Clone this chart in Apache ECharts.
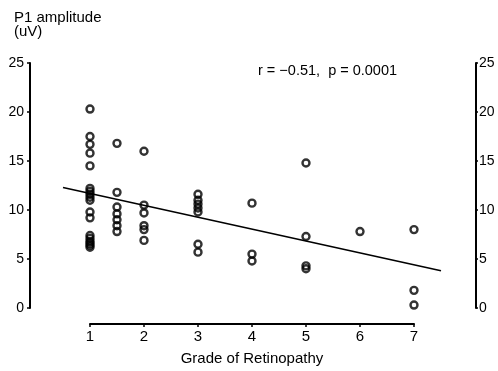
<!DOCTYPE html>
<html>
<head>
<meta charset="utf-8">
<script src="https://cdn.jsdelivr.net/npm/echarts@6/dist/echarts.min.js"></script>
<style>
  html, body { margin: 0; padding: 0; background: #fff; }
  #chart { width: 498px; height: 371px; }
</style>
</head>
<body>
<div id="chart"></div>
<script>
// Grade of retinopathy for each patient
const grades = [
  1, 1, 1, 1, 1, 1, 1, 1, 1, 1, 1, 1, 1, 1, 1, 1, 1, 1,
  1.5, 1.5, 1.5, 1.5, 1.5, 1.5, 1.5,
  2, 2, 2, 2, 2, 2,
  3, 3, 3, 3, 3, 3, 3,
  4, 4, 4,
  5, 5, 5, 5,
  6,
  7, 7, 7
];
// P1 amplitude (uV) for each patient
const amplitudes = [
  20.3, 17.5, 16.7, 15.8, 14.5, 12.2, 11.9, 11.6, 11.3, 11.0, 9.8, 9.2, 7.4, 7.1, 6.8, 6.6, 6.4, 6.2,
  16.8, 11.8, 10.3, 9.6, 9.0, 8.4, 7.8,
  16.0, 10.5, 9.7, 8.4, 8.0, 6.9,
  11.6, 11.0, 10.6, 10.2, 9.8, 6.5, 5.7,
  10.7, 5.5, 4.8,
  14.8, 7.3, 4.3, 4.0,
  7.8,
  8.0, 1.8, 0.3
];
// Least-squares fit line end points
const fitX = [0.5, 7.5];
const fitY = [12.3, 3.8];

const gradeTicks = [1, 2, 3, 4, 5, 6, 7];
const amplitudeTicks = [0, 5, 10, 15, 20, 25];

const statsText = 'r = \u22120.51,  p = 0.0001';
const yTitle = ['P1 amplitude', '(uV)'];
const xTitle = 'Grade of Retinopathy';

const FONT = '"Liberation Sans", Arial, Helvetica, sans-serif';

const points = grades.map((g, i) => [g, amplitudes[i]]);
const fitLine = fitX.map((x, i) => [x, fitY[i]]);

// Plot frame: the two amplitude axes sit at the frame edges, while the
// grade axis is drawn in its own narrower, lower band.
const frame = { left: 30, right: 22, top: 63, bottom: 63 };
const gradeBand = { left: 90, right: 84 };
const plotWidth = 498 - frame.left - frame.right;
const gradeWidth = 498 - gradeBand.left - gradeBand.right;
const pxPerGrade = gradeWidth / (gradeTicks[gradeTicks.length - 1] - gradeTicks[0]);
const frameMinX = gradeTicks[0] - (gradeBand.left - frame.left) / pxPerGrade;
const frameMaxX = frameMinX + plotWidth / pxPerGrade;

const yAxisBase = {
  type: 'value',
  gridIndex: 0,
  min: amplitudeTicks[0],
  max: amplitudeTicks[amplitudeTicks.length - 1],
  interval: 5,
  splitLine: { show: false },
  axisLine: { show: true, onZero: false, lineStyle: { color: '#000', width: 2 } },
  axisTick: { show: true, length: 3, lineStyle: { color: '#000', width: 1.5 } },
  axisLabel: { color: '#000', fontFamily: FONT, fontSize: 14 }
};

const chart = echarts.init(document.getElementById('chart'), null, { renderer: 'canvas' });
chart.setOption({
  animation: false,
  backgroundColor: '#fff',
  grid: [
    { left: frame.left, right: frame.right, top: frame.top, bottom: frame.bottom },
    { left: gradeBand.left, right: gradeBand.right, top: frame.top, bottom: 371 - 327 }
  ],
  xAxis: [
    {
      type: 'value',
      gridIndex: 0,
      min: frameMinX,
      max: frameMaxX,
      show: false,
      splitLine: { show: false }
    },
    {
      type: 'value',
      gridIndex: 1,
      min: gradeTicks[0],
      max: gradeTicks[gradeTicks.length - 1],
      interval: 1,
      splitLine: { show: false },
      axisLine: { show: true, onZero: false, lineStyle: { color: '#000', width: 2 } },
      axisTick: { show: true, length: 3, lineStyle: { color: '#000', width: 1.5 } },
      axisLabel: { color: '#000', fontFamily: FONT, fontSize: 15, margin: 5 },
      name: xTitle,
      nameLocation: 'middle',
      nameGap: 27,
      nameTextStyle: { color: '#000', fontFamily: FONT, fontSize: 15 }
    }
  ],
  yAxis: [
    Object.assign({}, yAxisBase, {
      position: 'left',
      axisLabel: Object.assign({}, yAxisBase.axisLabel, { margin: 6 })
    }),
    Object.assign({}, yAxisBase, {
      position: 'right',
      axisTick: { show: true, length: 2, lineStyle: { color: '#000', width: 1.5 } },
      axisLabel: Object.assign({}, yAxisBase.axisLabel, { margin: 3 })
    }),
    { type: 'value', gridIndex: 1, show: false, min: 0, max: 1 }
  ],
  graphic: [
    { type: 'text', x: 14, y: 10, style: { text: yTitle[0], font: '15px ' + FONT, fill: '#000' } },
    { type: 'text', x: 14, y: 24, style: { text: yTitle[1], font: '15px ' + FONT, fill: '#000' } },
    { type: 'text', x: 258, y: 63, style: { text: statsText, font: '14.5px ' + FONT, fill: '#000' } }
  ],
  series: [
    {
      type: 'line',
      data: fitLine,
      xAxisIndex: 0,
      yAxisIndex: 0,
      showSymbol: false,
      symbol: 'none',
      lineStyle: { color: '#000', width: 1.6 },
      z: 2
    },
    {
      type: 'scatter',
      data: points,
      xAxisIndex: 0,
      yAxisIndex: 0,
      symbol: 'circle',
      symbolSize: 7,
      itemStyle: { color: 'rgba(0,0,0,0)', borderColor: '#000', borderWidth: 2.4 },
      z: 3
    }
  ]
});
</script>
</body>
</html>
